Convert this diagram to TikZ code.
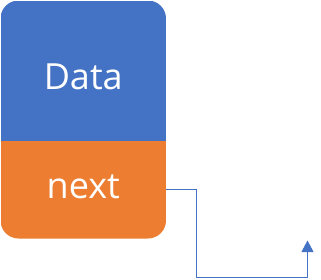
\documentclass[tikz,border=0pt]{standalone}
\usepackage{fontspec}
\setmainfont{Open Sans}
\usetikzlibrary{arrows.meta}

\definecolor{cellblue}{HTML}{4472C4}
\definecolor{cellorange}{HTML}{ED7D31}

\begin{document}
\begin{tikzpicture}[x=1pt, y=-1pt,
    cell/.style={draw=none, text=white, minimum width=165.5pt, inner sep=0pt,
                 font=\fontsize{36}{40}\selectfont, text depth=0pt},
    link/.style={draw=cellblue, line width=1pt, -{Triangle[length=11.5pt,width=12pt]}}]
    \useasboundingbox (0,0) rectangle (321,279);
    \begin{scope}
        \clip[rounded corners=18pt] (0.5,0.5) rectangle (166,238.5);
        \node[cell, fill=cellblue, minimum height=140.5pt, text height=37pt] (data) at (83.25,70.75) {Data};
        \node[cell, fill=cellorange, minimum height=98pt, text height=17pt] (next) at (83.25,189.75) {next};
    \end{scope}
    % pointer to the following element
    \coordinate (tail) at (307.5,240.5);
    \draw[link] (next.east) -| (196,277) -| (tail);
\end{tikzpicture}
\end{document}
